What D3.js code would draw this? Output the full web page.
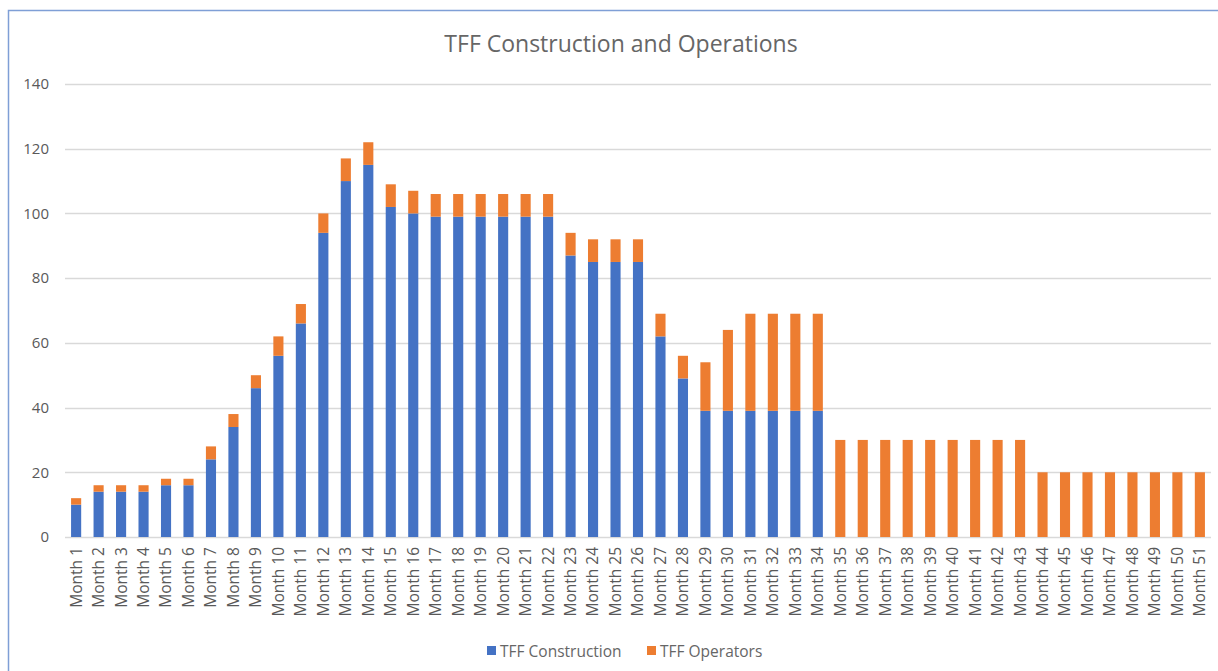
<!DOCTYPE html>
<meta charset="utf-8">
<script src="https://d3js.org/d3.v7.min.js"></script>
<style>
  body { margin: 0; background: #fff; }
  text { font-family: "Open Sans", "Noto Sans", sans-serif; fill: #595959; }
</style>
<body>
<div id="chart"></div>
<script>
  // data
  var months = d3.range(1, 52).map(function (i) { return "Month " + i; });
  var construction = [10, 14, 14, 14, 16, 16, 24, 34, 46, 56, 66, 94, 110, 115, 102, 100, 99, 99, 99, 99, 99, 99,
    87, 85, 85, 85, 62, 49, 39, 39, 39, 39, 39, 39,
    0, 0, 0, 0, 0, 0, 0, 0, 0, 0, 0, 0, 0, 0, 0, 0, 0];
  var operators = [2, 2, 2, 2, 2, 2, 4, 4, 4, 6, 6, 6, 7, 7, 7, 7, 7, 7, 7, 7, 7, 7,
    7, 7, 7, 7, 7, 7, 15, 25, 30, 30, 30, 30,
    30, 30, 30, 30, 30, 30, 30, 30, 30, 20, 20, 20, 20, 20, 20, 20, 20];
  var seriesNames = ["TFF Construction", "TFF Operators"];
  var colors = ["#4472C4", "#ED7D31"];
  var yTicks = [0, 20, 40, 60, 80, 100, 120, 140];

  var width = 1218, height = 671;
  var margin = { top: 84, right: 7, bottom: 134, left: 65 };

  var svg = d3.select("#chart").append("svg")
    .attr("width", width)
    .attr("height", height);

  // chart frame
  svg.append("rect")
    .attr("x", 8.5).attr("y", 10.5)
    .attr("width", width + 20).attr("height", height + 20)
    .attr("fill", "none")
    .attr("stroke", "#7f9fd6")
    .attr("stroke-width", 1.5);

  var x = d3.scaleBand()
    .domain(months)
    .range([margin.left, width - margin.right])
    .paddingInner(0.55)
    .paddingOuter(0.27);

  var y = d3.scaleLinear()
    .domain([0, 140])
    .range([height - margin.bottom, margin.top]);

  // gridlines
  svg.append("g")
    .selectAll("line")
    .data(yTicks)
    .enter().append("line")
    .attr("x1", margin.left)
    .attr("x2", width - margin.right)
    .attr("y1", function (d) { return Math.round(y(d)) + 0.5; })
    .attr("y2", function (d) { return Math.round(y(d)) + 0.5; })
    .attr("stroke", "#d9d9d9")
    .attr("stroke-width", 1.3);

  // y labels
  var yAxis = svg.append("g")
    .attr("transform", "translate(" + (margin.left - 16) + ",0)")
    .call(d3.axisLeft(y).tickValues(yTicks).tickSize(0).tickPadding(0));
  yAxis.select(".domain").remove();
  yAxis.selectAll("text")
    .style("font-family", "'Open Sans', sans-serif")
    .style("font-size", "15px")
    .attr("fill", "#666");

  // stacked bars
  var rows = months.map(function (m, i) {
    return { month: m, c: construction[i], o: operators[i] };
  });
  var stack = d3.stack().keys(["c", "o"])(rows);

  svg.append("g")
    .selectAll("g")
    .data(stack)
    .enter().append("g")
    .attr("fill", function (d, i) { return colors[i]; })
    .selectAll("rect")
    .data(function (d) { return d; })
    .enter().append("rect")
    .attr("x", function (d) { return x(d.data.month); })
    .attr("width", x.bandwidth())
    .attr("y", function (d) { return y(d[1]); })
    .attr("height", function (d) { return y(d[0]) - y(d[1]); });

  // x labels
  var xAxis = svg.append("g")
    .attr("transform", "translate(0," + (height - margin.bottom) + ")")
    .call(d3.axisBottom(x).tickSize(0).tickPadding(0));
  xAxis.select(".domain").remove();
  xAxis.selectAll("text")
    .style("font-family", "'Open Sans', sans-serif")
    .style("font-size", "15.5px")
    .attr("fill", "#666")
    .attr("text-anchor", "end")
    .attr("dy", "0.35em")
    .attr("transform", "translate(0,10) rotate(-90)");

  // title
  svg.append("text")
    .attr("x", 621)
    .attr("y", 52)
    .attr("text-anchor", "middle")
    .attr("fill", "#666")
    .style("font-size", "23px")
    .style("fill", "#666")
    .text("TFF Construction and Operations");

  // legend
  var legendX = [487, 647];
  var legend = svg.append("g");
  seriesNames.forEach(function (name, i) {
    legend.append("rect")
      .attr("x", legendX[i]).attr("y", 646)
      .attr("width", 9).attr("height", 9)
      .attr("fill", colors[i]);
    legend.append("text")
      .attr("x", legendX[i] + 13)
      .attr("y", 657)
      .style("font-size", "15.5px")
      .style("fill", "#666")
      .text(name);
  });
</script>
</body>
